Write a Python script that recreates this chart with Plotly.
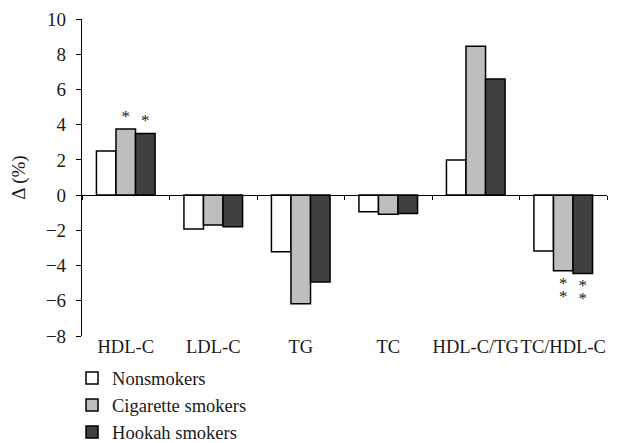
import plotly.graph_objects as go

categories = ["HDL-C", "LDL-C", "TG", "TC", "HDL-C/TG", "TC/HDL-C"]
nonsmokers = [2.5, -1.93, -3.22, -0.95, 2.0, -3.18]
cigarette = [3.75, -1.7, -6.17, -1.08, 8.45, -4.3]
hookah = [3.5, -1.8, -4.94, -1.05, 6.6, -4.45]
cig_marks = ["*", "", "", "", "", "*<br>*"]
hook_marks = ["*", "", "", "", "", "*<br>*"]
series_names = ["Nonsmokers", "Cigarette smokers", "Hookah smokers"]
y_ticks = [-8, -6, -4, -2, 0, 2, 4, 6, 8, 10]

FONT = "Liberation Serif"


def star_text(marks):
    out = []
    for m in marks:
        if not m:
            out.append("")
        else:
            parts = m.split("<br>")
            out.append("<br>".join('<span style="font-size:17px">%s</span>' % p for p in parts))
    return out


fig = go.Figure()
fig.add_bar(x=categories, y=nonsmokers, name=series_names[0],
            marker=dict(color="white", line=dict(color="black", width=1.5)))
fig.add_bar(x=categories, y=cigarette, name=series_names[1],
            marker=dict(color="#bebebe", line=dict(color="black", width=1.5)),
            text=star_text(cig_marks), textposition="outside",
            textfont=dict(family=FONT, size=10, color="#222"), cliponaxis=False)
fig.add_bar(x=categories, y=hookah, name=series_names[2],
            marker=dict(color="#404040", line=dict(color="black", width=1.5)),
            text=star_text(hook_marks), textposition="outside",
            textfont=dict(family=FONT, size=10, color="#222"), cliponaxis=False)

fig.update_layout(
    width=625, height=443,
    margin=dict(l=74, r=26, t=11, b=115, autoexpand=False),
    paper_bgcolor="white", plot_bgcolor="white",
    barmode="group", bargap=0.33, bargroupgap=0,
    font=dict(family=FONT, size=19, color="#1a1a1a"),
    showlegend=True,
    legend=dict(x=-0.019, xanchor="left", y=-0.074, yanchor="top",
                font=dict(family=FONT, size=18.5), tracegroupgap=0,
                bgcolor="rgba(0,0,0,0)"),
    xaxis=dict(type="category", anchor="free", position=8 / 18,
               showline=True, linecolor="black", linewidth=1.2,
               ticks="outside", tickson="boundaries", ticklen=4,
               tickwidth=1.2, tickcolor="black", showgrid=False,
               zeroline=False, tickangle=0, ticklabelstandoff=135,
               tickfont=dict(family=FONT, size=18.5)),
    yaxis=dict(range=[-8, 10], tickvals=y_ticks, showline=True,
               linecolor="black", linewidth=1.2, ticks="outside", ticklen=5,
               tickwidth=1.2, tickcolor="black", showgrid=False,
               zeroline=True, zerolinecolor="black", zerolinewidth=1.2,
               ticklabelposition="outside", ticklabelstandoff=6,
               tickfont=dict(family=FONT, size=19),
               title=dict(text="Δ (%)", font=dict(family=FONT, size=19),
                          standoff=18)),
)

fig.write_html("out.html")
